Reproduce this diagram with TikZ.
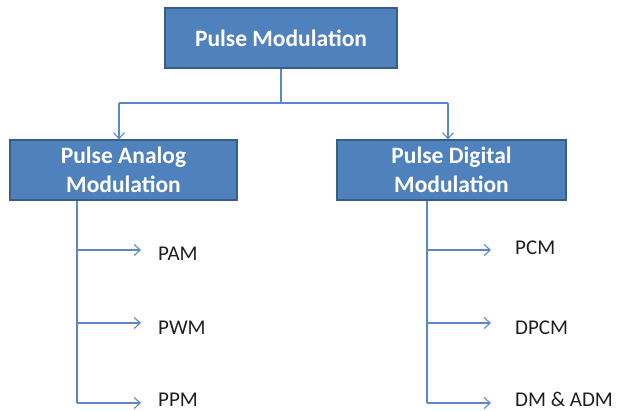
\documentclass[tikz,border=0pt]{standalone}
\usepackage{fontspec}
\setmainfont{Carlito}
\usetikzlibrary{arrows.meta}
\definecolor{boxfill}{HTML}{4F81BD}
\definecolor{boxline}{HTML}{385D8A}
\definecolor{conn}{HTML}{5B88C8}
\definecolor{labtext}{HTML}{1F1F1F}
\begin{document}
\begin{tikzpicture}[x=1pt,y=-1pt,
  box/.style={draw=boxline, line width=1.2pt, fill=boxfill, text=white, font=\fontsize{23.5}{28.5}\selectfont\bfseries, align=center, inner sep=0pt},
  conn/.style={draw=conn, line width=1.1pt},
  arr/.style={conn, -{Straight Barb[length=6pt,width=11pt]}},
  lab/.style={anchor=base west, inner sep=0pt, text=labtext, font=\fontsize{21}{24}\selectfont}]
\useasboundingbox (0,0) rectangle (618,410);
\node[box, minimum width=232, minimum height=60] (top) at (281,38) {Pulse Modulation};
\node[box, minimum width=227, minimum height=60] (left) at (123.5,170) {Pulse Analog\\Modulation};
\node[box, minimum width=229, minimum height=60] (right) at (451.5,170) {Pulse Digital\\Modulation};
\coordinate (j) at (281,103);
\coordinate (jl) at (119,103);
\coordinate (jr) at (448,103);
\draw[conn] (top.south) -- (j);
\draw[conn] (jl) -- (jr);
\draw[arr] (jl) -- (left.north -| jl);
\draw[arr] (jr) -- (right.north -| jr);
% labels
\node[lab] (pam) at (158,260) {PAM};
\node[lab] (pwm) at (158,334) {PWM};
\node[lab] (ppm) at (158,406) {PPM};
\node[lab] (pcm) at (515,254) {PCM};
\node[lab] (dpcm) at (515,334) {DPCM};
\node[lab] (dm) at (515,406) {DM \& ADM};
\coordinate (lv) at (77,200);
\coordinate (rv) at (427,200);
\coordinate (lend) at (77,403);
\coordinate (rend) at (427,403);
\draw[conn] (left.south -| lv) -- (lend);
\draw[conn] (right.south -| rv) -- (rend);
\draw[arr] (77,250) -- (141,250);
\draw[arr] (77,323) -- (141,323);
\draw[arr] (lend) -- (141,403);
\draw[arr] (427,250) -- (491,250);
\draw[arr] (427,323) -- (491,323);
\draw[arr] (rend) -- (491,403);
\end{tikzpicture}
\end{document}
